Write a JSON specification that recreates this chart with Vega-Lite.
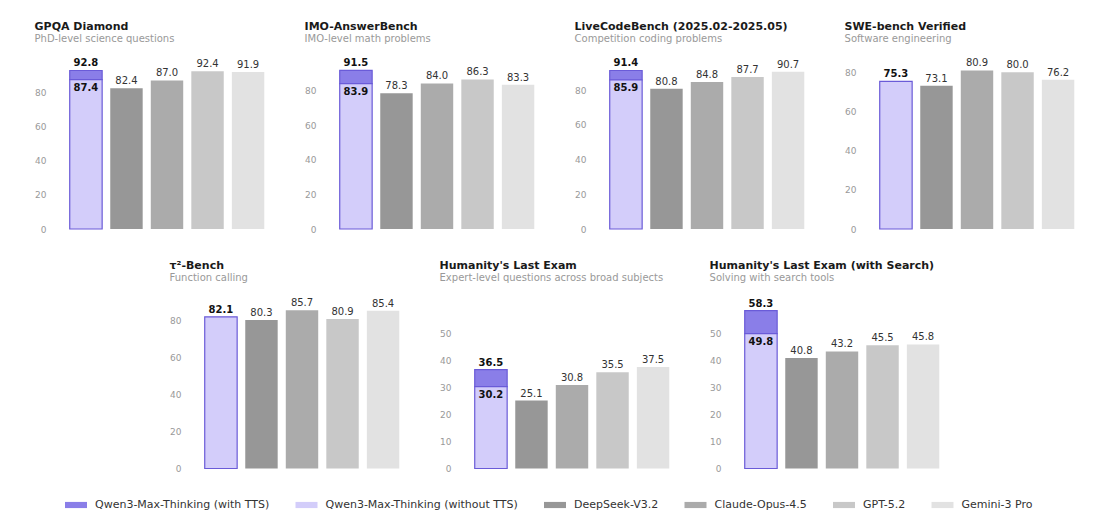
{
  "$schema": "https://vega.github.io/schema/vega-lite/v6.json",
  "padding": {"left": 34, "top": 20, "right": 5, "bottom": 5},
  "background": "white",
  "datasets": {
    "scores": [
      {"bench": "GPQA Diamond", "model": "Qwen3-Max-Thinking", "series": "Qwen3-Max-Thinking (with TTS)", "score": 92.8, "base": 87.4},
      {"bench": "GPQA Diamond", "model": "Qwen3-Max-Thinking", "series": "Qwen3-Max-Thinking (without TTS)", "score": 87.4, "base": 0},
      {"bench": "GPQA Diamond", "model": "DeepSeek-V3.2", "series": "DeepSeek-V3.2", "score": 82.4, "base": 0},
      {"bench": "GPQA Diamond", "model": "Claude-Opus-4.5", "series": "Claude-Opus-4.5", "score": 87.0, "base": 0},
      {"bench": "GPQA Diamond", "model": "GPT-5.2", "series": "GPT-5.2", "score": 92.4, "base": 0},
      {"bench": "GPQA Diamond", "model": "Gemini-3 Pro", "series": "Gemini-3 Pro", "score": 91.9, "base": 0},
      {"bench": "IMO-AnswerBench", "model": "Qwen3-Max-Thinking", "series": "Qwen3-Max-Thinking (with TTS)", "score": 91.5, "base": 83.9},
      {"bench": "IMO-AnswerBench", "model": "Qwen3-Max-Thinking", "series": "Qwen3-Max-Thinking (without TTS)", "score": 83.9, "base": 0},
      {"bench": "IMO-AnswerBench", "model": "DeepSeek-V3.2", "series": "DeepSeek-V3.2", "score": 78.3, "base": 0},
      {"bench": "IMO-AnswerBench", "model": "Claude-Opus-4.5", "series": "Claude-Opus-4.5", "score": 84.0, "base": 0},
      {"bench": "IMO-AnswerBench", "model": "GPT-5.2", "series": "GPT-5.2", "score": 86.3, "base": 0},
      {"bench": "IMO-AnswerBench", "model": "Gemini-3 Pro", "series": "Gemini-3 Pro", "score": 83.3, "base": 0},
      {"bench": "LiveCodeBench (2025.02-2025.05)", "model": "Qwen3-Max-Thinking", "series": "Qwen3-Max-Thinking (with TTS)", "score": 91.4, "base": 85.9},
      {"bench": "LiveCodeBench (2025.02-2025.05)", "model": "Qwen3-Max-Thinking", "series": "Qwen3-Max-Thinking (without TTS)", "score": 85.9, "base": 0},
      {"bench": "LiveCodeBench (2025.02-2025.05)", "model": "DeepSeek-V3.2", "series": "DeepSeek-V3.2", "score": 80.8, "base": 0},
      {"bench": "LiveCodeBench (2025.02-2025.05)", "model": "Claude-Opus-4.5", "series": "Claude-Opus-4.5", "score": 84.8, "base": 0},
      {"bench": "LiveCodeBench (2025.02-2025.05)", "model": "GPT-5.2", "series": "GPT-5.2", "score": 87.7, "base": 0},
      {"bench": "LiveCodeBench (2025.02-2025.05)", "model": "Gemini-3 Pro", "series": "Gemini-3 Pro", "score": 90.7, "base": 0},
      {"bench": "SWE-bench Verified", "model": "Qwen3-Max-Thinking", "series": "Qwen3-Max-Thinking (without TTS)", "score": 75.3, "base": 0},
      {"bench": "SWE-bench Verified", "model": "DeepSeek-V3.2", "series": "DeepSeek-V3.2", "score": 73.1, "base": 0},
      {"bench": "SWE-bench Verified", "model": "Claude-Opus-4.5", "series": "Claude-Opus-4.5", "score": 80.9, "base": 0},
      {"bench": "SWE-bench Verified", "model": "GPT-5.2", "series": "GPT-5.2", "score": 80.0, "base": 0},
      {"bench": "SWE-bench Verified", "model": "Gemini-3 Pro", "series": "Gemini-3 Pro", "score": 76.2, "base": 0},
      {"bench": "τ²-Bench", "model": "Qwen3-Max-Thinking", "series": "Qwen3-Max-Thinking (without TTS)", "score": 82.1, "base": 0},
      {"bench": "τ²-Bench", "model": "DeepSeek-V3.2", "series": "DeepSeek-V3.2", "score": 80.3, "base": 0},
      {"bench": "τ²-Bench", "model": "Claude-Opus-4.5", "series": "Claude-Opus-4.5", "score": 85.7, "base": 0},
      {"bench": "τ²-Bench", "model": "GPT-5.2", "series": "GPT-5.2", "score": 80.9, "base": 0},
      {"bench": "τ²-Bench", "model": "Gemini-3 Pro", "series": "Gemini-3 Pro", "score": 85.4, "base": 0},
      {"bench": "Humanity's Last Exam", "model": "Qwen3-Max-Thinking", "series": "Qwen3-Max-Thinking (with TTS)", "score": 36.5, "base": 30.2},
      {"bench": "Humanity's Last Exam", "model": "Qwen3-Max-Thinking", "series": "Qwen3-Max-Thinking (without TTS)", "score": 30.2, "base": 0},
      {"bench": "Humanity's Last Exam", "model": "DeepSeek-V3.2", "series": "DeepSeek-V3.2", "score": 25.1, "base": 0},
      {"bench": "Humanity's Last Exam", "model": "Claude-Opus-4.5", "series": "Claude-Opus-4.5", "score": 30.8, "base": 0},
      {"bench": "Humanity's Last Exam", "model": "GPT-5.2", "series": "GPT-5.2", "score": 35.5, "base": 0},
      {"bench": "Humanity's Last Exam", "model": "Gemini-3 Pro", "series": "Gemini-3 Pro", "score": 37.5, "base": 0},
      {"bench": "Humanity's Last Exam (with Search)", "model": "Qwen3-Max-Thinking", "series": "Qwen3-Max-Thinking (with TTS)", "score": 58.3, "base": 49.8},
      {"bench": "Humanity's Last Exam (with Search)", "model": "Qwen3-Max-Thinking", "series": "Qwen3-Max-Thinking (without TTS)", "score": 49.8, "base": 0},
      {"bench": "Humanity's Last Exam (with Search)", "model": "DeepSeek-V3.2", "series": "DeepSeek-V3.2", "score": 40.8, "base": 0},
      {"bench": "Humanity's Last Exam (with Search)", "model": "Claude-Opus-4.5", "series": "Claude-Opus-4.5", "score": 43.2, "base": 0},
      {"bench": "Humanity's Last Exam (with Search)", "model": "GPT-5.2", "series": "GPT-5.2", "score": 45.5, "base": 0},
      {"bench": "Humanity's Last Exam (with Search)", "model": "Gemini-3 Pro", "series": "Gemini-3 Pro", "score": 45.8, "base": 0}
    ]
  },
  "vconcat": [
    {
      "hconcat": [
        {
          "title": {"text": "GPQA Diamond", "subtitle": "PhD-level science questions"},
          "width": 214, "height": 175,
          "data": {"name": "scores"},
          "transform": [{"filter": {"field": "bench", "equal": "GPQA Diamond"}}, {"joinaggregate": [{"op": "count", "as": "n"}]}],
          "encoding": {
            "x": {"field": "model", "type": "nominal", "sort": ["Qwen3-Max-Thinking", "DeepSeek-V3.2", "Claude-Opus-4.5", "GPT-5.2", "Gemini-3 Pro"], "axis": null, "scale": {"paddingInner": 0.2, "paddingOuter": 0.24}},
            "y": {"field": "score", "type": "quantitative", "scale": {"domain": [0, 102.45]}, "axis": {"values": [0, 20, 40, 60, 80], "title": null}}
          },
          "layer": [
            {"mark": {"type": "bar", "stroke": "#6a5bd8"}, "encoding": {"y2": {"field": "base"}, "color": {"field": "series", "type": "nominal", "scale": {"domain": ["Qwen3-Max-Thinking (with TTS)", "Qwen3-Max-Thinking (without TTS)", "DeepSeek-V3.2", "Claude-Opus-4.5", "GPT-5.2", "Gemini-3 Pro"], "range": ["#8a7ee8", "#d3cdfa", "#979797", "#ababab", "#c8c8c8", "#e2e2e2"]}, "legend": {"title": null, "orient": "none", "legendX": 5, "legendY": 440, "direction": "horizontal"}}, "strokeWidth": {"condition": {"test": "datum.model == 'Qwen3-Max-Thinking'", "value": 1.2}, "value": 0}}},
            {"transform": [{"filter": "datum.model == 'Qwen3-Max-Thinking' && (datum.series == 'Qwen3-Max-Thinking (with TTS)' || datum.n == 5)"}], "mark": {"type": "text", "fontWeight": "bold", "baseline": "alphabetic", "dy": -4, "fontSize": 10, "color": "#111"}, "encoding": {"text": {"field": "score", "format": ".1f"}}},
            {"transform": [{"filter": "datum.series == 'Qwen3-Max-Thinking (without TTS)' && datum.n == 6"}], "mark": {"type": "text", "fontWeight": "bold", "baseline": "top", "dy": 3, "fontSize": 10, "color": "#111"}, "encoding": {"text": {"field": "score", "format": ".1f"}}},
            {"transform": [{"filter": "datum.model != 'Qwen3-Max-Thinking'"}], "mark": {"type": "text", "baseline": "alphabetic", "dy": -4, "fontSize": 10, "color": "#333"}, "encoding": {"text": {"field": "score", "format": ".1f"}}}
          ]
        },
        {
          "title": {"text": "IMO-AnswerBench", "subtitle": "IMO-level math problems"},
          "width": 214, "height": 175,
          "data": {"name": "scores"},
          "transform": [{"filter": {"field": "bench", "equal": "IMO-AnswerBench"}}, {"joinaggregate": [{"op": "count", "as": "n"}]}],
          "encoding": {
            "x": {"field": "model", "type": "nominal", "sort": ["Qwen3-Max-Thinking", "DeepSeek-V3.2", "Claude-Opus-4.5", "GPT-5.2", "Gemini-3 Pro"], "axis": null, "scale": {"paddingInner": 0.2, "paddingOuter": 0.24}},
            "y": {"field": "score", "type": "quantitative", "scale": {"domain": [0, 101.0]}, "axis": {"values": [0, 20, 40, 60, 80], "title": null}}
          },
          "layer": [
            {"mark": {"type": "bar", "stroke": "#6a5bd8"}, "encoding": {"y2": {"field": "base"}, "color": {"field": "series", "type": "nominal", "scale": {"domain": ["Qwen3-Max-Thinking (with TTS)", "Qwen3-Max-Thinking (without TTS)", "DeepSeek-V3.2", "Claude-Opus-4.5", "GPT-5.2", "Gemini-3 Pro"], "range": ["#8a7ee8", "#d3cdfa", "#979797", "#ababab", "#c8c8c8", "#e2e2e2"]}, "legend": {"title": null, "orient": "none", "legendX": 5, "legendY": 440, "direction": "horizontal"}}, "strokeWidth": {"condition": {"test": "datum.model == 'Qwen3-Max-Thinking'", "value": 1.2}, "value": 0}}},
            {"transform": [{"filter": "datum.model == 'Qwen3-Max-Thinking' && (datum.series == 'Qwen3-Max-Thinking (with TTS)' || datum.n == 5)"}], "mark": {"type": "text", "fontWeight": "bold", "baseline": "alphabetic", "dy": -4, "fontSize": 10, "color": "#111"}, "encoding": {"text": {"field": "score", "format": ".1f"}}},
            {"transform": [{"filter": "datum.series == 'Qwen3-Max-Thinking (without TTS)' && datum.n == 6"}], "mark": {"type": "text", "fontWeight": "bold", "baseline": "top", "dy": 3, "fontSize": 10, "color": "#111"}, "encoding": {"text": {"field": "score", "format": ".1f"}}},
            {"transform": [{"filter": "datum.model != 'Qwen3-Max-Thinking'"}], "mark": {"type": "text", "baseline": "alphabetic", "dy": -4, "fontSize": 10, "color": "#333"}, "encoding": {"text": {"field": "score", "format": ".1f"}}}
          ]
        },
        {
          "title": {"text": "LiveCodeBench (2025.02-2025.05)", "subtitle": "Competition coding problems"},
          "width": 214, "height": 175,
          "data": {"name": "scores"},
          "transform": [{"filter": {"field": "bench", "equal": "LiveCodeBench (2025.02-2025.05)"}}, {"joinaggregate": [{"op": "count", "as": "n"}]}],
          "encoding": {
            "x": {"field": "model", "type": "nominal", "sort": ["Qwen3-Max-Thinking", "DeepSeek-V3.2", "Claude-Opus-4.5", "GPT-5.2", "Gemini-3 Pro"], "axis": null, "scale": {"paddingInner": 0.2, "paddingOuter": 0.24}},
            "y": {"field": "score", "type": "quantitative", "scale": {"domain": [0, 100.9]}, "axis": {"values": [0, 20, 40, 60, 80], "title": null}}
          },
          "layer": [
            {"mark": {"type": "bar", "stroke": "#6a5bd8"}, "encoding": {"y2": {"field": "base"}, "color": {"field": "series", "type": "nominal", "scale": {"domain": ["Qwen3-Max-Thinking (with TTS)", "Qwen3-Max-Thinking (without TTS)", "DeepSeek-V3.2", "Claude-Opus-4.5", "GPT-5.2", "Gemini-3 Pro"], "range": ["#8a7ee8", "#d3cdfa", "#979797", "#ababab", "#c8c8c8", "#e2e2e2"]}, "legend": {"title": null, "orient": "none", "legendX": 5, "legendY": 440, "direction": "horizontal"}}, "strokeWidth": {"condition": {"test": "datum.model == 'Qwen3-Max-Thinking'", "value": 1.2}, "value": 0}}},
            {"transform": [{"filter": "datum.model == 'Qwen3-Max-Thinking' && (datum.series == 'Qwen3-Max-Thinking (with TTS)' || datum.n == 5)"}], "mark": {"type": "text", "fontWeight": "bold", "baseline": "alphabetic", "dy": -4, "fontSize": 10, "color": "#111"}, "encoding": {"text": {"field": "score", "format": ".1f"}}},
            {"transform": [{"filter": "datum.series == 'Qwen3-Max-Thinking (without TTS)' && datum.n == 6"}], "mark": {"type": "text", "fontWeight": "bold", "baseline": "top", "dy": 3, "fontSize": 10, "color": "#111"}, "encoding": {"text": {"field": "score", "format": ".1f"}}},
            {"transform": [{"filter": "datum.model != 'Qwen3-Max-Thinking'"}], "mark": {"type": "text", "baseline": "alphabetic", "dy": -4, "fontSize": 10, "color": "#333"}, "encoding": {"text": {"field": "score", "format": ".1f"}}}
          ]
        },
        {
          "title": {"text": "SWE-bench Verified", "subtitle": "Software engineering"},
          "width": 214, "height": 175,
          "data": {"name": "scores"},
          "transform": [{"filter": {"field": "bench", "equal": "SWE-bench Verified"}}, {"joinaggregate": [{"op": "count", "as": "n"}]}],
          "encoding": {
            "x": {"field": "model", "type": "nominal", "sort": ["Qwen3-Max-Thinking", "DeepSeek-V3.2", "Claude-Opus-4.5", "GPT-5.2", "Gemini-3 Pro"], "axis": null, "scale": {"paddingInner": 0.2, "paddingOuter": 0.24}},
            "y": {"field": "score", "type": "quantitative", "scale": {"domain": [0, 89.3]}, "axis": {"values": [0, 20, 40, 60, 80], "title": null}}
          },
          "layer": [
            {"mark": {"type": "bar", "stroke": "#6a5bd8"}, "encoding": {"y2": {"field": "base"}, "color": {"field": "series", "type": "nominal", "scale": {"domain": ["Qwen3-Max-Thinking (with TTS)", "Qwen3-Max-Thinking (without TTS)", "DeepSeek-V3.2", "Claude-Opus-4.5", "GPT-5.2", "Gemini-3 Pro"], "range": ["#8a7ee8", "#d3cdfa", "#979797", "#ababab", "#c8c8c8", "#e2e2e2"]}, "legend": {"title": null, "orient": "none", "legendX": 5, "legendY": 440, "direction": "horizontal"}}, "strokeWidth": {"condition": {"test": "datum.model == 'Qwen3-Max-Thinking'", "value": 1.2}, "value": 0}}},
            {"transform": [{"filter": "datum.model == 'Qwen3-Max-Thinking' && (datum.series == 'Qwen3-Max-Thinking (with TTS)' || datum.n == 5)"}], "mark": {"type": "text", "fontWeight": "bold", "baseline": "alphabetic", "dy": -4, "fontSize": 10, "color": "#111"}, "encoding": {"text": {"field": "score", "format": ".1f"}}},
            {"transform": [{"filter": "datum.series == 'Qwen3-Max-Thinking (without TTS)' && datum.n == 6"}], "mark": {"type": "text", "fontWeight": "bold", "baseline": "top", "dy": 3, "fontSize": 10, "color": "#111"}, "encoding": {"text": {"field": "score", "format": ".1f"}}},
            {"transform": [{"filter": "datum.model != 'Qwen3-Max-Thinking'"}], "mark": {"type": "text", "baseline": "alphabetic", "dy": -4, "fontSize": 10, "color": "#333"}, "encoding": {"text": {"field": "score", "format": ".1f"}}}
          ]
        }
      ],
      "spacing": 30,
      "resolve": {"scale": {"x": "independent", "y": "independent", "color": "shared"}, "legend": {"color": "shared"}}
    },
    {
      "hconcat": [
        {
          "title": {"text": "τ²-Bench", "subtitle": "Function calling"},
          "width": 214, "height": 175,
          "data": {"name": "scores"},
          "transform": [{"filter": {"field": "bench", "equal": "τ²-Bench"}}, {"joinaggregate": [{"op": "count", "as": "n"}]}],
          "encoding": {
            "x": {"field": "model", "type": "nominal", "sort": ["Qwen3-Max-Thinking", "DeepSeek-V3.2", "Claude-Opus-4.5", "GPT-5.2", "Gemini-3 Pro"], "axis": null, "scale": {"paddingInner": 0.2, "paddingOuter": 0.24}},
            "y": {"field": "score", "type": "quantitative", "scale": {"domain": [0, 94.7]}, "axis": {"values": [0, 20, 40, 60, 80], "title": null}}
          },
          "layer": [
            {"mark": {"type": "bar", "stroke": "#6a5bd8"}, "encoding": {"y2": {"field": "base"}, "color": {"field": "series", "type": "nominal", "scale": {"domain": ["Qwen3-Max-Thinking (with TTS)", "Qwen3-Max-Thinking (without TTS)", "DeepSeek-V3.2", "Claude-Opus-4.5", "GPT-5.2", "Gemini-3 Pro"], "range": ["#8a7ee8", "#d3cdfa", "#979797", "#ababab", "#c8c8c8", "#e2e2e2"]}, "legend": {"title": null, "orient": "none", "legendX": 5, "legendY": 440, "direction": "horizontal"}}, "strokeWidth": {"condition": {"test": "datum.model == 'Qwen3-Max-Thinking'", "value": 1.2}, "value": 0}}},
            {"transform": [{"filter": "datum.model == 'Qwen3-Max-Thinking' && (datum.series == 'Qwen3-Max-Thinking (with TTS)' || datum.n == 5)"}], "mark": {"type": "text", "fontWeight": "bold", "baseline": "alphabetic", "dy": -4, "fontSize": 10, "color": "#111"}, "encoding": {"text": {"field": "score", "format": ".1f"}}},
            {"transform": [{"filter": "datum.series == 'Qwen3-Max-Thinking (without TTS)' && datum.n == 6"}], "mark": {"type": "text", "fontWeight": "bold", "baseline": "top", "dy": 3, "fontSize": 10, "color": "#111"}, "encoding": {"text": {"field": "score", "format": ".1f"}}},
            {"transform": [{"filter": "datum.model != 'Qwen3-Max-Thinking'"}], "mark": {"type": "text", "baseline": "alphabetic", "dy": -4, "fontSize": 10, "color": "#333"}, "encoding": {"text": {"field": "score", "format": ".1f"}}}
          ]
        },
        {
          "title": {"text": "Humanity's Last Exam", "subtitle": "Expert-level questions across broad subjects"},
          "width": 214, "height": 175,
          "data": {"name": "scores"},
          "transform": [{"filter": {"field": "bench", "equal": "Humanity's Last Exam"}}, {"joinaggregate": [{"op": "count", "as": "n"}]}],
          "encoding": {
            "x": {"field": "model", "type": "nominal", "sort": ["Qwen3-Max-Thinking", "DeepSeek-V3.2", "Claude-Opus-4.5", "GPT-5.2", "Gemini-3 Pro"], "axis": null, "scale": {"paddingInner": 0.2, "paddingOuter": 0.24}},
            "y": {"field": "score", "type": "quantitative", "scale": {"domain": [0, 64.6]}, "axis": {"values": [0, 10, 20, 30, 40, 50], "title": null}}
          },
          "layer": [
            {"mark": {"type": "bar", "stroke": "#6a5bd8"}, "encoding": {"y2": {"field": "base"}, "color": {"field": "series", "type": "nominal", "scale": {"domain": ["Qwen3-Max-Thinking (with TTS)", "Qwen3-Max-Thinking (without TTS)", "DeepSeek-V3.2", "Claude-Opus-4.5", "GPT-5.2", "Gemini-3 Pro"], "range": ["#8a7ee8", "#d3cdfa", "#979797", "#ababab", "#c8c8c8", "#e2e2e2"]}, "legend": {"title": null, "orient": "none", "legendX": 5, "legendY": 440, "direction": "horizontal"}}, "strokeWidth": {"condition": {"test": "datum.model == 'Qwen3-Max-Thinking'", "value": 1.2}, "value": 0}}},
            {"transform": [{"filter": "datum.model == 'Qwen3-Max-Thinking' && (datum.series == 'Qwen3-Max-Thinking (with TTS)' || datum.n == 5)"}], "mark": {"type": "text", "fontWeight": "bold", "baseline": "alphabetic", "dy": -4, "fontSize": 10, "color": "#111"}, "encoding": {"text": {"field": "score", "format": ".1f"}}},
            {"transform": [{"filter": "datum.series == 'Qwen3-Max-Thinking (without TTS)' && datum.n == 6"}], "mark": {"type": "text", "fontWeight": "bold", "baseline": "top", "dy": 3, "fontSize": 10, "color": "#111"}, "encoding": {"text": {"field": "score", "format": ".1f"}}},
            {"transform": [{"filter": "datum.model != 'Qwen3-Max-Thinking'"}], "mark": {"type": "text", "baseline": "alphabetic", "dy": -4, "fontSize": 10, "color": "#333"}, "encoding": {"text": {"field": "score", "format": ".1f"}}}
          ]
        },
        {
          "title": {"text": "Humanity's Last Exam (with Search)", "subtitle": "Solving with search tools"},
          "width": 214, "height": 175,
          "data": {"name": "scores"},
          "transform": [{"filter": {"field": "bench", "equal": "Humanity's Last Exam (with Search)"}}, {"joinaggregate": [{"op": "count", "as": "n"}]}],
          "encoding": {
            "x": {"field": "model", "type": "nominal", "sort": ["Qwen3-Max-Thinking", "DeepSeek-V3.2", "Claude-Opus-4.5", "GPT-5.2", "Gemini-3 Pro"], "axis": null, "scale": {"paddingInner": 0.2, "paddingOuter": 0.24}},
            "y": {"field": "score", "type": "quantitative", "scale": {"domain": [0, 64.6]}, "axis": {"values": [0, 10, 20, 30, 40, 50], "title": null}}
          },
          "layer": [
            {"mark": {"type": "bar", "stroke": "#6a5bd8"}, "encoding": {"y2": {"field": "base"}, "color": {"field": "series", "type": "nominal", "scale": {"domain": ["Qwen3-Max-Thinking (with TTS)", "Qwen3-Max-Thinking (without TTS)", "DeepSeek-V3.2", "Claude-Opus-4.5", "GPT-5.2", "Gemini-3 Pro"], "range": ["#8a7ee8", "#d3cdfa", "#979797", "#ababab", "#c8c8c8", "#e2e2e2"]}, "legend": {"title": null, "orient": "none", "legendX": 5, "legendY": 440, "direction": "horizontal"}}, "strokeWidth": {"condition": {"test": "datum.model == 'Qwen3-Max-Thinking'", "value": 1.2}, "value": 0}}},
            {"transform": [{"filter": "datum.model == 'Qwen3-Max-Thinking' && (datum.series == 'Qwen3-Max-Thinking (with TTS)' || datum.n == 5)"}], "mark": {"type": "text", "fontWeight": "bold", "baseline": "alphabetic", "dy": -4, "fontSize": 10, "color": "#111"}, "encoding": {"text": {"field": "score", "format": ".1f"}}},
            {"transform": [{"filter": "datum.series == 'Qwen3-Max-Thinking (without TTS)' && datum.n == 6"}], "mark": {"type": "text", "fontWeight": "bold", "baseline": "top", "dy": 3, "fontSize": 10, "color": "#111"}, "encoding": {"text": {"field": "score", "format": ".1f"}}},
            {"transform": [{"filter": "datum.model != 'Qwen3-Max-Thinking'"}], "mark": {"type": "text", "baseline": "alphabetic", "dy": -4, "fontSize": 10, "color": "#333"}, "encoding": {"text": {"field": "score", "format": ".1f"}}}
          ]
        }
      ],
      "spacing": 30,
      "resolve": {"scale": {"x": "independent", "y": "independent", "color": "shared"}, "legend": {"color": "shared"}}
    }
  ],
  "spacing": 25.5,
  "center": true,
  "resolve": {"scale": {"color": "shared"}, "legend": {"color": "shared"}},
  "config": {
    "font": "DejaVu Sans",
    "view": {"stroke": null},
    "axis": {"ticks": false, "domain": false, "grid": false, "labelColor": "#999999", "labelFontSize": 9, "labelPadding": 14, "labelFont": "DejaVu Sans"},
    "title": {"anchor": "start", "frame": "bounds", "fontSize": 11, "fontWeight": "bold", "color": "#1a1a1a", "font": "DejaVu Sans", "subtitleFont": "DejaVu Sans", "subtitleFontSize": 10, "subtitleColor": "#999999", "subtitlePadding": 2, "offset": 10.5},
    "legend": {"symbolType": "M-1,-0.28H1V0.28H-1Z", "symbolSize": 484, "symbolStrokeWidth": 0, "labelFontSize": 11, "labelColor": "#333333", "labelOffset": 8, "columnPadding": 25.5, "padding": 0, "labelFont": "DejaVu Sans", "labelLimit": 400}
  }
}
